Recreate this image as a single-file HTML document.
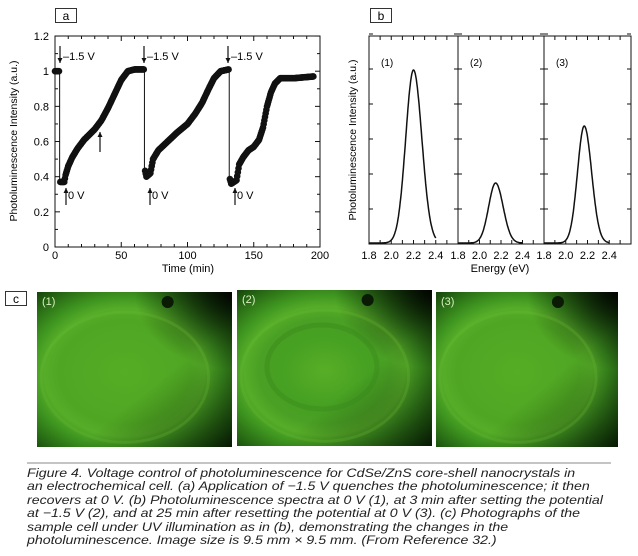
<!DOCTYPE html>
<html><head><meta charset="utf-8"><style>
html,body{margin:0;padding:0;background:#fff;}
body{width:638px;height:556px;overflow:hidden;position:relative;font-family:"Liberation Sans",sans-serif;}
svg text{font-family:"Liberation Sans",sans-serif;}
.cap{position:absolute;left:27px;top:467px;width:520px;font-style:italic;font-size:12.3px;line-height:13.4px;color:#222;white-space:nowrap;transform:scaleX(1.15);transform-origin:0 0;}
</style></head><body>
<svg id="s" width="638" height="556" viewBox="0 0 638 556" style="position:absolute;left:0;top:0">
<defs>
<radialGradient id="g1" cx="0.45" cy="0.52" r="0.75">
<stop offset="0" stop-color="#55ad25"/><stop offset="0.45" stop-color="#4fa623"/><stop offset="0.55" stop-color="#56ad28"/><stop offset="0.65" stop-color="#3f9620"/><stop offset="0.85" stop-color="#1f5a10"/><stop offset="1" stop-color="#0d2607"/>
</radialGradient>
<radialGradient id="g2" cx="0.45" cy="0.52" r="0.75">
<stop offset="0" stop-color="#58ae26"/><stop offset="0.3" stop-color="#46a022"/><stop offset="0.45" stop-color="#4aa024"/><stop offset="0.55" stop-color="#56ad28"/><stop offset="0.65" stop-color="#3f9620"/><stop offset="0.85" stop-color="#1f5a10"/><stop offset="1" stop-color="#0d2607"/>
</radialGradient>
<linearGradient id="dk" x1="0" y1="0" x2="1" y2="1">
<stop offset="0.6" stop-color="#000" stop-opacity="0"/><stop offset="1" stop-color="#000" stop-opacity="0.5"/>
</linearGradient>
<radialGradient id="tr" cx="1" cy="0" r="0.5">
<stop offset="0" stop-color="#000" stop-opacity="0.85"/><stop offset="1" stop-color="#000" stop-opacity="0"/>
</radialGradient>
</defs>
<g id="A"></g><g id="B"></g>
<rect x="5.5" y="291.5" width="21" height="14" fill="#fff" stroke="#333"/>
<text x="16" y="303" font-size="12" text-anchor="middle">c</text>
<g id="C"></g>
<line x1="27" y1="463" x2="611" y2="463" stroke="#888" stroke-width="1"/>
</svg>
<div class="cap">Figure 4. Voltage control of photoluminescence for CdSe/ZnS core-shell nanocrystals in<br>an electrochemical cell. (a) Application of −1.5 V quenches the photoluminescence; it then<br>recovers at 0 V. (b) Photoluminescence spectra at 0 V (1), at 3 min after setting the potential<br>at −1.5 V (2), and at 25 min after resetting the potential at 0 V (3). (c) Photographs of the<br>sample cell under UV illumination as in (b), demonstrating the changes in the<br>photoluminescence. Image size is 9.5 mm × 9.5 mm. (From Reference 32.)</div>
<script>
var NS="http://www.w3.org/2000/svg";
function el(p,t,a,tx){var e=document.createElementNS(NS,t);for(var k in a)e.setAttribute(k,a[k]);if(tx!=null)e.textContent=tx;p.appendChild(e);return e;}
var A=document.getElementById('A'),B=document.getElementById('B'),C=document.getElementById('C');
var X=function(t){return 55+t*1.325},Y=function(v){return 247-v*175.8};
el(A,'rect',{x:55.5,y:8.5,width:21,height:14,fill:'#fff',stroke:'#333'});
el(A,'text',{x:66,y:20,'font-size':12,'text-anchor':'middle'},'a');
el(A,'rect',{x:55,y:36,width:265,height:211,fill:'none',stroke:'#111','stroke-width':1});
for(var i=0;i<=6;i++){var v=i*0.2,y=Y(v);el(A,'line',{x1:55,y1:y,x2:60,y2:y,stroke:'#111'});el(A,'line',{x1:315,y1:y,x2:320,y2:y,stroke:'#111'});
 el(A,'text',{x:49,y:y+4,'font-size':11,'text-anchor':'end'},i==0?'0':i==5?'1':v.toFixed(1));
 if(i<6){var y2=Y(v+0.1);el(A,'line',{x1:55,y1:y2,x2:58,y2:y2,stroke:'#111'});el(A,'line',{x1:317,y1:y2,x2:320,y2:y2,stroke:'#111'});}}
for(var t=0;t<=200;t+=10){var x=X(t),L=t%50==0?5:3;el(A,'line',{x1:x,y1:247,x2:x,y2:247-L,stroke:'#111'});el(A,'line',{x1:x,y1:36,x2:x,y2:36+L,stroke:'#111'});
 if(t%50==0)el(A,'text',{x:x,y:259,'font-size':11,'text-anchor':'middle'},t);}
el(A,'text',{x:188,y:272,'font-size':11,'text-anchor':'middle'},'Time (min)');
el(A,'text',{x:0,y:0,'font-size':10.5,'text-anchor':'middle',transform:'translate(17,141) rotate(-90)'},'Photoluminescence Intensity (a.u.)');
var keys=[[0,1],[3,1],[3.5,0.37],[7,0.37],[8,0.41],[10,0.46],[13,0.51],[17,0.56],[22,0.61],[30,0.67],[35,0.72],[40,0.79],[45,0.87],[50,0.95],[55,1.0],[60,1.01],[67,1.01],[67.5,0.45],[69,0.40],[72,0.42],[74,0.5],[78,0.55],[85,0.6],[92,0.65],[100,0.7],[106,0.76],[111,0.82],[116,0.9],[120,0.96],[125,1.0],[131,1.01],[131.5,0.4],[133,0.36],[137,0.38],[139,0.47],[142,0.51],[146,0.55],[150,0.57],[154,0.61],[157,0.68],[160,0.8],[163,0.88],[166,0.93],[170,0.96],[180,0.96],[195,0.97]];
function interp(t){for(var i=1;i<keys.length;i++){if(t<=keys[i][0]){var a=keys[i-1],b=keys[i];return a[1]+(b[1]-a[1])*(t-a[0])/(b[0]-a[0]);}}return keys[keys.length-1][1];}
[[3.5,1,0.37],[67.5,1.01,0.45],[131.5,1.01,0.38]].forEach(function(d){el(A,'line',{x1:X(d[0]),y1:Y(d[1]),x2:X(d[0]),y2:Y(d[2]),stroke:'#111','stroke-width':1});});
var segs=[[0,3],[4,67],[68,131],[132,195]];
segs.forEach(function(s){for(var t=s[0];t<=s[1];t+=0.5){el(A,'circle',{cx:X(t),cy:Y(interp(t)),r:3.3,fill:'#111'});}});
function arrow(x,y1,y2){el(A,'line',{x1:x,y1:y1,x2:x,y2:y2,stroke:'#111','stroke-width':1.2});var d=y2>y1?-1:1;el(A,'path',{d:'M'+(x-2.5)+' '+(y2+d*5)+' L'+x+' '+y2+' L'+(x+2.5)+' '+(y2+d*5)+'Z',fill:'#111'});}
[60,144,228].forEach(function(x){arrow(x,46,63);el(A,'text',{x:x+3,y:60,'font-size':11},'–1.5 V');});
[66,150,235].forEach(function(x){arrow(x,205,188);el(A,'text',{x:x+2,y:199,'font-size':11},'0 V');});
arrow(100,152,132);
el(B,'rect',{x:370.5,y:8.5,width:21,height:14,fill:'#fff',stroke:'#333'});
el(B,'text',{x:381,y:20,'font-size':12,'text-anchor':'middle'},'b');
var xs=[369,458,544,631];
var pk=[[2.2,70,0.07,0.075],[2.15,183,0.065,0.07],[2.17,126,0.062,0.068]];
for(var p=0;p<3;p++){var x0=xs[p],w=xs[p+1]-xs[p],sc=w/0.8;
 el(B,'rect',{x:x0,y:36,width:w,height:208,fill:'none',stroke:'#111'});
 for(var e=1.8;e<2.61;e+=0.1){var x=x0+(e-1.8)*sc;el(B,'line',{x1:x,y1:244,x2:x,y2:240,stroke:'#111'});el(B,'line',{x1:x,y1:36,x2:x,y2:40,stroke:'#111'});}
 for(var k=0;k<8;k++){var y=244-k*35;if(p==0)el(B,'line',{x1:x0,y1:y,x2:x0+4,y2:y,stroke:'#111'});el(B,'line',{x1:xs[p+1]-4,y1:y,x2:xs[p+1]+(p<2?4:0),y2:y,stroke:'#111'});}
 ['1.8','2.0','2.2','2.4'].forEach(function(s,j){el(B,'text',{x:x0+j*0.2*sc,y:259,'font-size':11,'text-anchor':'middle'},s);});
 el(B,'text',{x:x0+12,y:66,'font-size':10},'('+(p+1)+')');
 var P=pk[p],d='';for(var e=1.8;e<=2.4;e+=0.005){var sg=e<P[0]?P[2]:P[3];var v=Math.exp(-Math.pow(e-P[0],2)/(2*sg*sg));var y=243-(243-P[1])*v;d+=(d?'L':'M')+(x0+(e-1.8)*sc).toFixed(1)+' '+y.toFixed(1);}
 el(B,'path',{d:d,fill:'none',stroke:'#111','stroke-width':1.5});
}
el(B,'text',{x:500,y:272,'font-size':11,'text-anchor':'middle'},'Energy (eV)');
el(B,'text',{x:0,y:0,'font-size':10.5,'text-anchor':'middle',transform:'translate(356,140) rotate(-90)'},'Photoluminescence Intensity (a.u.)');
var ph=[[37,292,195,155],[237,290,195,156],[436,292,182,155]];
ph.forEach(function(r,i){
 el(C,'rect',{x:r[0],y:r[1],width:r[2],height:r[3],fill:i==1?'url(#g2)':'url(#g1)'});
 el(C,'rect',{x:r[0],y:r[1],width:r[2],height:r[3],fill:'url(#tr)'});
 el(C,'rect',{x:r[0],y:r[1],width:r[2],height:r[3],fill:'url(#dk)'});
 el(C,'ellipse',{cx:r[0]+r[2]*0.45,cy:r[1]+r[3]*0.55,rx:r[2]*0.43,ry:r[3]*0.42,fill:'none',stroke:'#6bbf35','stroke-opacity':0.25,'stroke-width':3});
 el(C,'circle',{cx:r[0]+r[2]*0.67,cy:r[1]+10,r:6,fill:'#0a1a05'});
 el(C,'text',{x:r[0]+5,y:r[1]+13,'font-size':11,fill:'#d8f0c0'},'('+(i+1)+')');
});
el(C,'ellipse',{cx:322,cy:367,rx:55,ry:42,fill:'none',stroke:'#3a8a1c','stroke-opacity':0.45,'stroke-width':5});
</script>
</body></html>
